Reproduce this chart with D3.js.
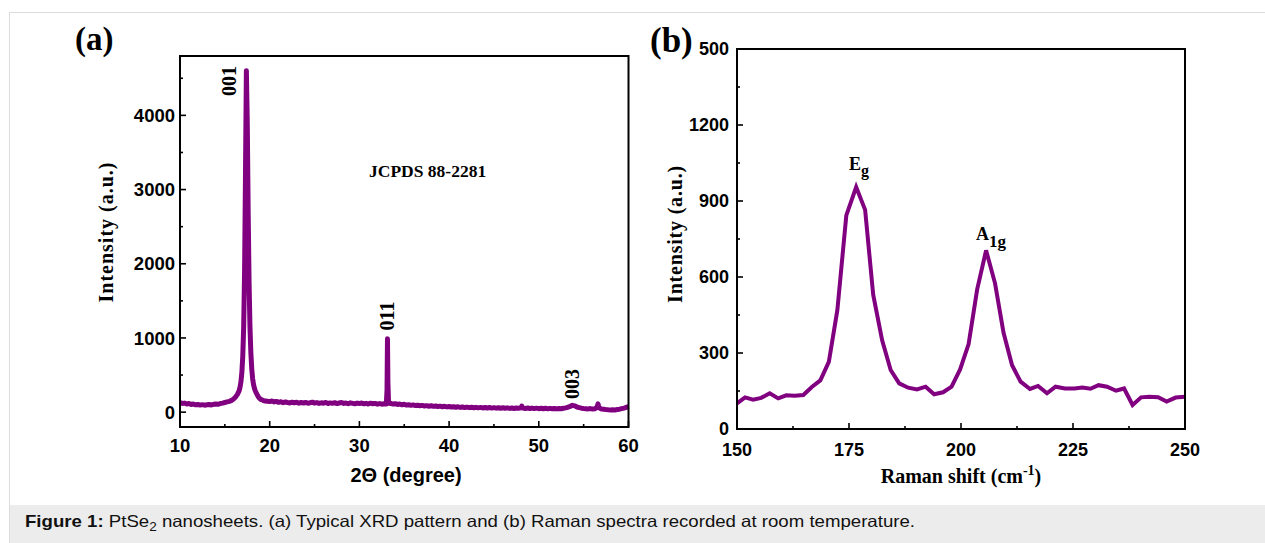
<!DOCTYPE html>
<html>
<head>
<meta charset="utf-8">
<script src="https://cdn.jsdelivr.net/npm/d3@7/dist/d3.min.js"></script>
<style>
  html, body { margin: 0; padding: 0; background: #fff; }
  svg { display: block; }
  .serif { font-family: "Liberation Serif", "Times New Roman", serif; font-weight: bold; }
  .sans { font-family: "Liberation Sans", Arial, sans-serif; font-weight: bold; }
</style>
</head>
<body>
<svg id="fig" width="1265" height="543"></svg>
<script>
// ---- XRD pattern (2θ in degrees, intensity in a.u.) ----
const xrdTheta = [
  10.00,10.25,10.50,10.75,11.00,11.25,11.50,11.75,12.00,12.25,12.50,12.75,13.00,13.25,13.50,13.75,
  14.00,14.25,14.50,14.75,15.00,15.25,15.50,15.75,16.00,16.20,16.40,16.60,16.70,16.80,16.90,17.00,
  17.10,17.20,17.30,17.40,17.50,17.60,17.70,17.80,17.90,18.00,18.10,18.20,18.30,18.40,18.60,18.80,
  19.00,19.25,19.50,19.75,20.00,20.25,20.50,20.75,21.00,21.25,21.50,21.75,22.00,22.25,22.50,22.75,
  23.00,23.25,23.50,23.75,24.00,24.25,24.50,24.75,25.00,25.25,25.50,25.75,26.00,26.25,26.50,26.75,
  27.00,27.25,27.50,27.75,28.00,28.25,28.50,28.75,29.00,29.25,29.50,29.75,30.00,30.25,30.50,30.75,
  31.00,31.25,31.50,31.75,32.00,32.25,32.50,32.75,33.00,33.08,33.13,33.18,33.25,33.50,33.75,34.00,
  34.25,34.50,34.75,35.00,35.25,35.50,35.75,36.00,36.25,36.50,36.75,37.00,37.25,37.50,37.75,38.00,
  38.25,38.50,38.75,39.00,39.25,39.50,39.75,40.00,40.25,40.50,40.75,41.00,41.25,41.50,41.75,42.00,
  42.25,42.50,42.75,43.00,43.25,43.50,43.75,44.00,44.25,44.50,44.75,45.00,45.25,45.50,45.75,46.00,
  46.25,46.50,46.75,47.00,47.25,47.50,47.75,48.00,48.10,48.20,48.50,48.75,49.00,49.25,49.50,49.75,
  50.00,50.25,50.50,50.75,51.00,51.25,51.50,51.75,52.00,52.25,52.50,52.75,53.00,53.25,53.50,53.75,
  54.00,54.25,54.50,54.75,55.00,55.25,55.50,55.75,56.00,56.25,56.50,56.60,56.70,57.00,57.25,57.50,
  57.75,58.00,58.25,58.50,58.75,59.00,59.25,59.50,59.75,60.00
];
const xrdCounts = [
  128,118,122,110,116,104,109,99,104,95,101,94,99,103,97,106,
  110,106,117,122,130,138,146,158,180,205,240,290,340,415,540,760,
  1150,1900,3200,4600,3900,2700,1750,1150,800,580,450,370,320,285,235,195,
  172,160,150,146,142,150,138,145,132,140,128,137,130,124,134,127,
  133,121,130,124,131,120,127,135,122,129,118,126,121,130,117,125,
  119,128,116,124,130,118,123,114,126,119,112,122,116,124,112,119,
  110,121,113,118,108,116,107,113,110,300,990,400,120,118,109,114,
  104,110,99,106,96,101,92,98,89,94,86,91,83,88,80,86,
  78,83,76,81,73,79,71,76,69,74,66,72,64,70,62,68,
  61,66,59,65,58,64,57,63,56,62,55,61,54,60,53,59,
  52,58,51,57,50,56,52,58,82,55,50,56,49,55,48,54,
  47,53,46,52,45,51,45,50,44,50,46,53,58,66,78,92,
  85,70,62,54,50,47,44,48,43,45,70,112,60,42,38,34,
  31,29,32,30,36,40,48,55,64,78
];
const xrdXTicks = [10, 20, 30, 40, 50, 60];
const xrdXMinor = [15, 25, 35, 45, 55];
const xrdYTicks = [0, 1000, 2000, 3000, 4000];
const xrdYMinor = [500, 1500, 2500, 3500, 4500];
const xrdPeaks = [
  { label: "001", theta: 17.4 },
  { label: "011", theta: 33.13 },
  { label: "003", theta: 53.8 }
];

// ---- Raman spectrum (shift in cm^-1, intensity in a.u.) ----
const ramanShift = [
  150.0,151.8,153.6,155.4,157.3,159.2,161.0,162.9,164.8,166.7,168.6,170.5,172.4,174.4,176.6,178.6,
  180.4,182.4,184.3,186.2,188.2,190.2,192.1,194.0,196.0,197.9,199.8,201.7,203.6,205.6,207.6,209.5,
  211.4,213.3,215.4,217.2,219.2,221.1,223.2,225.3,227.1,228.9,230.7,232.6,234.6,236.4,238.3,240.2,
  242.0,244.0,245.9,247.9,250.0
];
const ramanIntensity = [
  101,125,116,123,141,121,133,131,134,166,192,265,469,843,955,865,
  530,350,233,180,163,156,167,137,145,167,235,335,550,705,575,380,
  252,187,158,170,141,167,160,160,164,159,173,167,151,160,95,125,
  127,125,108,124,127
];
const ramanXTicks = [150, 175, 200, 225, 250];
const ramanXMinor = [162.5, 187.5, 212.5, 237.5];
const ramanYTicks = [0, 300, 600, 900, 1200, 1500];
const ramanYTickLabels = ["0", "300", "600", "900", "1200", "500"];
const ramanYMinor = [150, 450, 750, 1050, 1350];

const purple = "#800080";
const svg = d3.select("#fig");

// page frame and caption band
svg.append("rect").attr("x", 0).attr("y", 0).attr("width", 1265).attr("height", 543).attr("fill", "#fff");
svg.append("line").attr("x1", 9).attr("x2", 1265).attr("y1", 12.5).attr("y2", 12.5).attr("stroke", "#dcdcdc");
svg.append("line").attr("x1", 9.5).attr("x2", 9.5).attr("y1", 12).attr("y2", 543).attr("stroke", "#dcdcdc");
svg.append("rect").attr("x", 10).attr("y", 505).attr("width", 1255).attr("height", 38).attr("fill", "#ececec");

const cap = svg.append("text").attr("x", 25).attr("y", 527)
  .attr("font-family", "Liberation Sans, Arial, sans-serif").attr("font-size", 16.5).attr("fill", "#111")
  .attr("textLength", 890).attr("lengthAdjust", "spacingAndGlyphs");
cap.append("tspan").attr("font-weight", "bold").text("Figure 1:");
cap.append("tspan").text(" PtSe");
cap.append("tspan").attr("font-size", 12).attr("dy", 4).text("2");
cap.append("tspan").attr("dy", -4).text(" nanosheets. (a) Typical XRD pattern and (b) Raman spectra recorded at room temperature.");

// generic framed panel with inward ticks
function panel(cfg) {
  const g = svg.append("g");
  const [x0, x1] = cfg.x.range();
  const [y0, y1] = cfg.y.range();
  const tickG = g.append("g").attr("stroke", "#000").attr("stroke-width", 1.6);
  cfg.xTicks.forEach(v => tickG.append("line").attr("x1", cfg.x(v)).attr("x2", cfg.x(v)).attr("y1", y0).attr("y2", y0 - cfg.major));
  cfg.xMinor.forEach(v => tickG.append("line").attr("x1", cfg.x(v)).attr("x2", cfg.x(v)).attr("y1", y0).attr("y2", y0 - cfg.minor));
  cfg.yTicks.forEach(v => tickG.append("line").attr("x1", x0).attr("x2", x0 + cfg.major).attr("y1", cfg.y(v)).attr("y2", cfg.y(v)));
  cfg.yMinor.forEach(v => tickG.append("line").attr("x1", x0).attr("x2", x0 + cfg.minor).attr("y1", cfg.y(v)).attr("y2", cfg.y(v)));

  const line = d3.line().x(d => cfg.x(d[0])).y(d => cfg.y(d[1]));
  g.append("path").datum(d3.zip(cfg.xs, cfg.ys)).attr("d", line)
    .attr("fill", "none").attr("stroke", purple).attr("stroke-width", cfg.lw)
    .attr("stroke-linejoin", cfg.join);

  g.append("rect").attr("x", x0).attr("y", y1).attr("width", x1 - x0).attr("height", y0 - y1)
    .attr("fill", "none").attr("stroke", "#000").attr("stroke-width", 2);

  cfg.xTicks.forEach(v => g.append("text").attr("class", "sans").attr("font-size", cfg.fs)
    .attr("x", cfg.x(v)).attr("y", cfg.xLabelY).attr("text-anchor", "middle").text(v));
  cfg.yTicks.forEach((v, i) => g.append("text").attr("class", "sans").attr("font-size", cfg.fs)
    .attr("x", x0 - cfg.yGap).attr("y", cfg.y(v)).attr("dy", "0.36em").attr("text-anchor", "end")
    .text(cfg.yLabels ? cfg.yLabels[i] : v));
  return g;
}

// (a) XRD
const xA = d3.scaleLinear().domain([10, 60]).range([180, 628.5]);
const yA = d3.scaleLinear().domain([-200, 4800]).range([427, 56]);
const gA = panel({ x: xA, y: yA, xs: xrdTheta, ys: xrdCounts, lw: 5, join: "round",
  xTicks: xrdXTicks, xMinor: xrdXMinor, yTicks: xrdYTicks, yMinor: xrdYMinor,
  major: 6, minor: 3, fs: 18.5, xLabelY: 452, yGap: 5 });

const peakLabelPos = { "001": [229, 81], "011": [387, 316], "003": [572, 384] };
xrdPeaks.forEach(p => {
  const [px, py] = peakLabelPos[p.label];
  gA.append("text").attr("class", "serif").attr("font-size", 20)
    .attr("transform", `translate(${px},${py}) rotate(-90)`)
    .attr("text-anchor", "middle").attr("dy", "0.35em").text(p.label);
});
gA.append("text").attr("class", "serif").attr("font-size", 17.5).attr("x", 369).attr("y", 176.5).text("JCPDS 88-2281");
gA.append("text").attr("class", "serif").attr("font-size", 33).attr("x", 75).attr("y", 50).text("(a)");
gA.append("text").attr("class", "serif").attr("font-size", 20).attr("letter-spacing", 1)
  .attr("transform", "translate(106,232) rotate(-90)").attr("text-anchor", "middle").attr("dy", "0.35em")
  .text("Intensity (a.u.)");
gA.append("text").attr("class", "sans").attr("font-size", 20).attr("x", 406).attr("y", 482)
  .attr("text-anchor", "middle").text("2Θ (degree)");

// (b) Raman
const xB = d3.scaleLinear().domain([150, 250]).range([737, 1185]);
const yB = d3.scaleLinear().domain([0, 1500]).range([429, 49]);
const gB = panel({ x: xB, y: yB, xs: ramanShift, ys: ramanIntensity, lw: 4, join: "miter",
  xTicks: ramanXTicks, xMinor: ramanXMinor, yTicks: ramanYTicks, yMinor: ramanYMinor, yLabels: ramanYTickLabels,
  major: 6, minor: 3, fs: 18, xLabelY: 456, yGap: 8 });

const eg = gB.append("text").attr("class", "serif").attr("font-size", 18).attr("x", 849).attr("y", 170);
eg.append("tspan").text("E");
eg.append("tspan").attr("font-size", 16).attr("dy", 6).text("g");
const a1g = gB.append("text").attr("class", "serif").attr("font-size", 18).attr("x", 976).attr("y", 240);
a1g.append("tspan").text("A");
a1g.append("tspan").attr("font-size", 17).attr("dy", 7).text("1g");

gB.append("text").attr("class", "serif").attr("font-size", 35).attr("x", 650).attr("y", 52).text("(b)");
gB.append("text").attr("class", "serif").attr("font-size", 20).attr("letter-spacing", 0.8)
  .attr("transform", "translate(675,234) rotate(-90)").attr("text-anchor", "middle").attr("dy", "0.35em")
  .text("Intensity (a.u.)");
const rs = gB.append("text").attr("class", "serif").attr("font-size", 20).attr("x", 961).attr("y", 483)
  .attr("text-anchor", "middle");
rs.append("tspan").text("Raman shift (cm");
rs.append("tspan").attr("font-size", 14).attr("dy", -8).text("-1");
rs.append("tspan").attr("dy", 8).text(")");
</script>
</body>
</html>
